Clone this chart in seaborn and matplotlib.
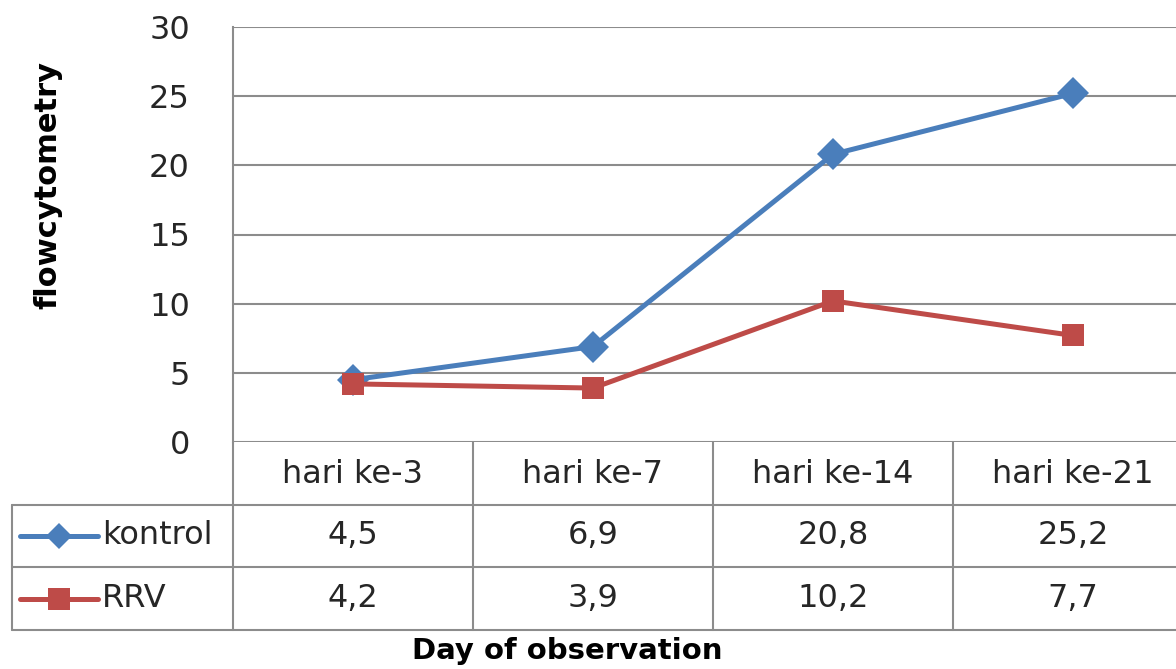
"""Flowcytometry line chart with Excel-style data table"""
import numpy as np
import pandas as pd
import matplotlib
matplotlib.use("Agg")
import matplotlib.pyplot as plt
import seaborn as sns

# data
days = ["hari ke-3", "hari ke-7", "hari ke-14", "hari ke-21"]
kontrol = [4.5, 6.9, 20.8, 25.2]
rrv = [4.2, 3.9, 10.2, 7.7]
series_names = ["kontrol", "RRV"]
y_ticks = [0, 5, 10, 15, 20, 25, 30]

colors = {"kontrol": "#4A7EBB", "RRV": "#BE4B48"}
markers = {"kontrol": "D", "RRV": "s"}
grid_col = "#8C8C8C"
text_col = "#262626"

sns.set_style("white")
plt.rcParams["font.family"] = ["DejaVu Sans"]

df = pd.DataFrame({
    "day": days * 2,
    "value": kontrol + rrv,
    "series": ["kontrol"] * len(days) + ["RRV"] * len(days),
})

W, H = 1176, 669
fig = plt.figure(figsize=(W / 100, H / 100), dpi=100)

# layout in pixels
plot_left, plot_top, plot_bottom = 233, 27, 442
col_w = 240
table_left, table_bottom = 12, 630
x_lo = -0.5
x_hi = -0.5 + (W - plot_left) / col_w

ax = fig.add_axes([plot_left / W, 1 - plot_bottom / H,
                   (W - plot_left) / W, (plot_bottom - plot_top) / H])
sns.lineplot(data=df, x="day", y="value", hue="series", style="series",
             palette=colors, markers=markers, dashes=False, sort=False,
             linewidth=3.6, markersize=16, markeredgewidth=0,
             legend=False, ax=ax, zorder=3)
ax.set_xlim(x_lo, x_hi)
ax.set_ylim(0, 30)
ax.set_yticks(y_ticks)
ax.set_yticklabels([str(t) for t in y_ticks], fontsize=23, color=text_col)
ax.set_xticks([])
ax.tick_params(axis="y", length=0, pad=31)
ax.yaxis.grid(True, color=grid_col, linewidth=1.5)
for s in ["top", "right", "bottom"]:
    ax.spines[s].set_visible(False)
ax.spines["left"].set_color(grid_col)
ax.spines["left"].set_linewidth(1.5)
ax.set_xlabel("")
ax.set_ylabel("")

# data table
tax = fig.add_axes([table_left / W, 1 - table_bottom / H,
                    (W - table_left) / W, (table_bottom - plot_bottom) / H])
t_lo = -0.5 - (plot_left - table_left) / col_w
tax.set_xlim(t_lo, x_hi)
tax.set_ylim(3, 0)
tax.axis("off")

lk = dict(color=grid_col, linewidth=1.5, clip_on=False)
for r in [1, 2, 3]:
    tax.plot([t_lo, x_hi], [r, r], **lk)
for i in range(len(days) + 1):
    tax.plot([i - 0.5, i - 0.5], [0, 3], **lk)
tax.plot([t_lo, t_lo], [1, 3], **lk)

for i, d in enumerate(days):
    tax.text(i, 0.52, d, ha="center", va="center", fontsize=23, color=text_col)

for r, (name, vals) in enumerate(zip(series_names, [kontrol, rrv]), start=1):
    for i, v in enumerate(vals):
        tax.text(i, r + 0.5, f"{v:.1f}".replace(".", ","), ha="center",
                 va="center", fontsize=23, color=text_col)
    # legend key
    xa = t_lo + 8 / col_w
    xb = t_lo + 86 / col_w
    tax.plot([xa, xb], [r + 0.5, r + 0.5], color=colors[name],
             linewidth=3.6, solid_capstyle="round")
    tax.plot([(xa + xb) / 2], [r + 0.5], marker=markers[name],
             color=colors[name], markersize=16 if name == "RRV" else 13,
             markeredgewidth=0)
    tax.text(t_lo + 90 / col_w, r + 0.5, name, ha="left", va="center",
             fontsize=23, color=text_col)

# axis titles
fig.text(48 / W, 1 - 185 / H, "flowcytometry", rotation=90, ha="center",
         va="center", fontsize=22, fontweight="bold", color="black")
fig.text(567 / W, 1 - 651 / H, "Day of observation", ha="center",
         va="center", fontsize=21, fontweight="bold", color="black")

fig.savefig("out.png", dpi=100)
